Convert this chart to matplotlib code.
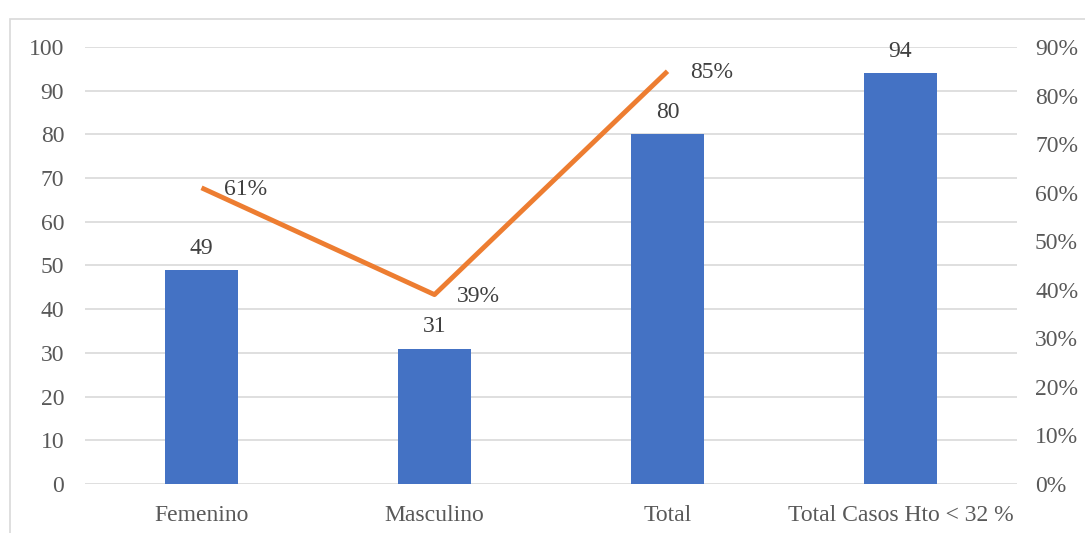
import matplotlib.pyplot as plt
from matplotlib.patches import Rectangle

categories = ['Femenino', 'Masculino', 'Total', 'Total Casos Hto < 32 %']
counts = [49, 31, 80, 94]
pct_cats = [0, 1, 2]
pct_values = [0.61, 0.39, 0.85]

plt.rcParams['font.family'] = ['Liberation Serif', 'DejaVu Serif']
txt = '#595959'
fs = 17

fig = plt.figure(figsize=(10.85, 5.33), dpi=100)
ax = fig.add_axes([85 / 1085, 49 / 533, 932 / 1085, 437 / 533])

# outer frame of the chart area
fig.patches.append(Rectangle((10 / 1085, -0.1), 1.2, (533 - 19) / 533 + 0.1,
                             transform=fig.transFigure, fill=False,
                             edgecolor='#D9D9D9', linewidth=1.2))

x = range(len(categories))
bars = ax.bar(x, counts, width=0.31, color='#4472C4', zorder=2)
for b, v in zip(bars, counts):
    ax.annotate(str(v), (b.get_x() + b.get_width() / 2, v), xytext=(0, 8),
                textcoords='offset points', ha='center', va='bottom',
                fontsize=fs, color='#404040')

ax.set_xlim(-0.5, 3.5)
ax.set_ylim(0, 100)
ax.set_yticks(range(0, 101, 10))
ax.set_xticks(list(x))
ax.set_xticklabels(categories)
ax.yaxis.grid(True, color='#D9D9D9', linewidth=1.2, zorder=0)
ax.set_axisbelow(True)
for s in ax.spines.values():
    s.set_visible(False)
ax.tick_params(length=0, labelsize=fs, labelcolor=txt)
ax.tick_params(axis='y', pad=15)
ax.tick_params(axis='x', pad=15)

ax2 = ax.twinx()
ax2.set_ylim(0, 0.9)
ax2.set_yticks([i / 10 for i in range(10)])
ax2.set_yticklabels([f'{i * 10}%' for i in range(10)])
ax2.plot(pct_cats, pct_values, color='#ED7D31', linewidth=3.5,
         solid_capstyle='butt', zorder=3)
for cx, v in zip(pct_cats, pct_values):
    ax2.annotate(f'{round(v * 100)}%', (cx, v), xytext=(16, -1),
                 textcoords='offset points', ha='left', va='center',
                 fontsize=fs, color='#404040')
for s in ax2.spines.values():
    s.set_visible(False)
ax2.tick_params(length=0, labelsize=fs, labelcolor=txt, pad=13)

fig.savefig('out.png', dpi=100)
